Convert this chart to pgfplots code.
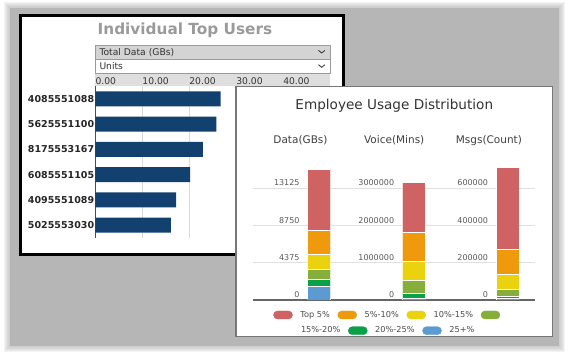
\documentclass[border=0pt]{standalone}
\usepackage{fontspec}
\setmainfont{DejaVu Sans}
\usepackage{pgfplots}
\pgfplotsset{compat=1.18}
\definecolor{bggray}{HTML}{B6B6B6}
\definecolor{navy}{HTML}{12406F}
\definecolor{cA}{HTML}{CF6263}
\definecolor{cB}{HTML}{EF9A0C}
\definecolor{cC}{HTML}{EAD20E}
\definecolor{cD}{HTML}{86AE3A}
\definecolor{cE}{HTML}{0AA04A}
\definecolor{cF}{HTML}{5B9BD2}
\definecolor{ttlgray}{HTML}{9A9A9A}
\definecolor{ddfill}{HTML}{D4D4D4}
\definecolor{ddline}{HTML}{9A9A9A}
\definecolor{bandfill}{HTML}{DEDEDE}
\definecolor{gridl}{HTML}{DADADA}
\definecolor{gridr}{HTML}{E0E0E0}
\definecolor{basel}{HTML}{666666}
\definecolor{panelline}{HTML}{777777}
\newcommand{\fs}[1]{\fontsize{#1}{#1}\selectfont}
\pgfplotsset{
  every axis title shift=0pt,
  barax/.style={scale only axis, width=23pt, height=148.9pt, xmin=-0.5, xmax=0.5, ymin=0,
    ybar stacked, bar width=23pt, hide x axis, axis y line*=left, y axis line style={draw=none},
    major tick length=0pt, scaled y ticks=false,
    yticklabel style={anchor=base east, inner sep=0pt, xshift=-8pt, yshift=2.5pt, font=\fs{8}, text=black!65},
    title style={anchor=base, font=\fs{10.5}, text=black!75},
    every axis plot/.append style={draw=white, line width=0.5pt}},
  pill/.style={legend image code/.code={\fill[#1, rounded corners=4pt] (0pt,-4pt) rectangle (19pt,4pt);}},
  legax/.style={legend columns=-1,
    legend style={draw=none, fill=none, inner sep=0pt, outer sep=0pt, font=\fs{8.2}, text=black!70,
      nodes={inner sep=0pt}, anchor=west,
      /tikz/every odd column/.append style={column sep=7.7pt},
      /tikz/every even column/.append style={column sep=7.7pt}}}
}
\begin{document}
\begin{tikzpicture}[x=1pt,y=1pt]
\fill[white] (0,0) rectangle (573,358);
\useasboundingbox (0,0) rectangle (573,358);
% soft gray background
\foreach \i in {1,...,6} {
  \fill[bggray, opacity=0.16] (10-\i,12-\i) rectangle (559+\i,350+\i);
}
\fill[bggray] (10,12) rectangle (559,350);
% left panel
\fill[white] (20.3,103.3) rectangle (343.7,342.7);
\draw[black, line width=2.7pt] (20.3,103.3) rectangle (343.7,342.7);
% dropdowns
\fill[bandfill] (95.3,272) rectangle (330,285);
\draw[ddline, line width=0.8pt, fill=ddfill] (95.3,299) rectangle (330,313);
\draw[ddline, line width=0.8pt, fill=white] (95.3,285) rectangle (330,299);
\node[anchor=base west, inner sep=0pt, font=\fs{9.2}, text=black!80] at (99.3,302.5) {Total Data (GBs)};
\node[anchor=base west, inner sep=0pt, font=\fs{9.2}, text=black!80] at (99.3,288.3) {Units};
\draw[black!75, line width=0.9pt] (318.5,307.6) -- (321.7,305) -- (324.9,307.6);
\draw[black!75, line width=0.9pt] (318.5,293.3) -- (321.7,290.7) -- (324.9,293.3);

\begin{axis}[at={(95.3pt,120pt)}, anchor=south west, scale only axis, width=234.7pt, height=152pt,
  xbar, bar width=15pt, xmin=0, xmax=50, ymin=-0.515, ymax=5.515, y dir=reverse,
  axis x line*=top, axis y line*=left, x axis line style={draw=none},
  y axis line style={draw=black!70, line width=1pt},
  xtick={0,10,20,30,40}, xticklabels={0.00,10.00,20.00,30.00,40.00},
  xticklabel style={anchor=base west, inner sep=0pt, yshift=1.5pt, font=\fs{9.2}, text=black!80},
  ytick={0,1,2,3,4,5},
  yticklabels={4085551088,5625551100,8175553167,6085551105,4095551089,5025553030},
  yticklabel style={anchor=east, inner sep=0pt, xshift=-1pt, font=\fs{9.5}\bfseries, text=black!85},
  major tick length=0pt, xmajorgrids, grid style={draw=gridl, line width=0.8pt},
  title={Individual Top Users},
  title style={at={(0.382,1.340)}, anchor=base, font=\fs{15.3}\bfseries, text=ttlgray}]
\addplot[fill=navy, draw=none] coordinates {(26.7,0) (25.8,1) (22.9,2) (20.2,3) (17.2,4) (16.1,5)};
\end{axis}

% right panel
\fill[white] (236,21.3) rectangle (552.7,271.3);
\draw[panelline, line width=1.2pt] (236,21.3) rectangle (552.7,271.3);

\begin{axis}[at={(253pt,58pt)}, anchor=south west, scale only axis, width=282pt, height=148.9pt,
  xmin=0, xmax=1, ymin=0, ymax=4, axis line style={draw=none}, xtick=\empty,
  ytick={1,2,3}, yticklabels={}, major tick length=0pt, ymajorgrids,
  grid style={draw=gridr, line width=1pt},
  extra y ticks={0}, extra y tick labels={},
  extra y tick style={grid style={draw=basel, line width=1.5pt}},
  title={Employee Usage Distribution},
  title style={at={(0.501,1.2807)}, anchor=base, font=\fs{13.6}, text=black!80},
  legax, legend style={at={(0.072,-0.1007)}}]
\addlegendimage{pill=cA}\addlegendentry{Top 5\%}
\addlegendimage{pill=cB}\addlegendentry{5\%-10\%}
\addlegendimage{pill=cC}\addlegendentry{10\%-15\%}
\addlegendimage{pill=cD}\addlegendentry{\mbox{}}
\end{axis}

\begin{axis}[at={(253pt,58pt)}, anchor=south west, scale only axis, width=282pt, height=148.9pt,
  xmin=0, xmax=1, ymin=0, ymax=4, hide axis,
  legax, legend style={at={(0.1429,-0.2062)}}]
\addlegendimage{legend image code/.code={}}\addlegendentry{15\%-20\%}
\addlegendimage{pill=cE}\addlegendentry{20\%-25\%}
\addlegendimage{pill=cF}\addlegendentry{25+\%}
\end{axis}

\begin{axis}[barax, at={(307.7pt,58pt)}, anchor=south west, ymax=17500,
  ytick={0,4375,8750,13125}, yticklabels={0,4375,8750,13125},
  title={Data(GBs)}, title style={at={(-0.313,1.0524)}}]
\addplot[fill=cF] coordinates {(0,1616)};
\addplot[fill=cE] coordinates {(0,827)};
\addplot[fill=cD] coordinates {(0,1182)};
\addplot[fill=cC] coordinates {(0,1773)};
\addplot[fill=cB] coordinates {(0,2798)};
\addplot[fill=cA] coordinates {(0,7172)};
\end{axis}

\begin{axis}[barax, at={(402.3pt,58pt)}, anchor=south west, ymax=4000000,
  ytick={0,1000000,2000000,3000000}, yticklabels={0,1000000,2000000,3000000},
  title={Voice(Mins)}, title style={at={(-0.352,1.0524)}}]
\addplot[fill=cF] coordinates {(0,45000)};
\addplot[fill=cE] coordinates {(0,135000)};
\addplot[fill=cD] coordinates {(0,342000)};
\addplot[fill=cC] coordinates {(0,522000)};
\addplot[fill=cB] coordinates {(0,766000)};
\addplot[fill=cA] coordinates {(0,1342000)};
\end{axis}

\begin{axis}[barax, at={(496.2pt,58pt)}, anchor=south west, ymax=800000,
  ytick={0,200000,400000,600000}, yticklabels={0,200000,400000,600000},
  title={Msgs(Count)}, title style={at={(-0.317,1.0524)}}]
\addplot[fill=cF] coordinates {(0,7200)};
\addplot[fill=cE] coordinates {(0,14400)};
\addplot[fill=cD] coordinates {(0,37800)};
\addplot[fill=cC] coordinates {(0,77500)};
\addplot[fill=cB] coordinates {(0,133300)};
\addplot[fill=cA] coordinates {(0,443300)};
\end{axis}
\end{tikzpicture}
\end{document}
